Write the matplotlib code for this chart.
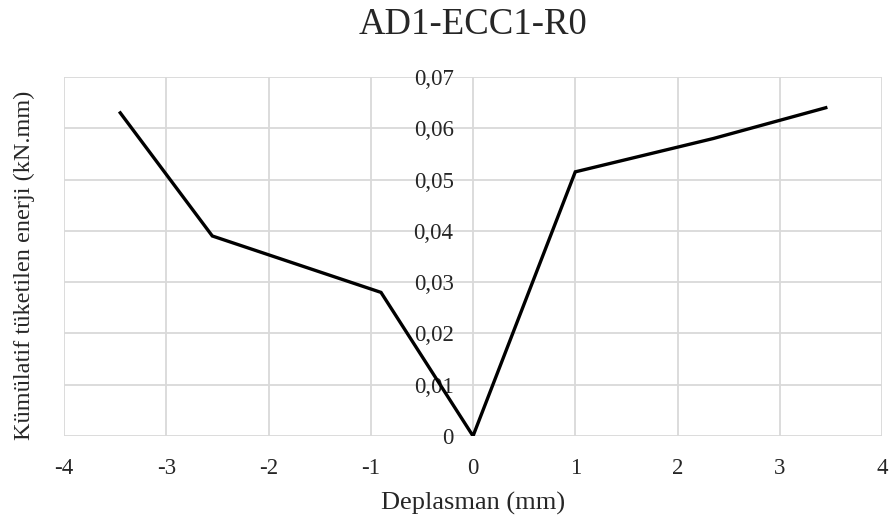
import matplotlib
matplotlib.use("Agg")
import matplotlib.pyplot as plt
from matplotlib.ticker import FuncFormatter

# displacement (mm) vs cumulative dissipated energy (kN.mm)
deplasman = [-3.45, -2.55, -0.9, 0.0, 1.0, 2.35, 3.45]
enerji = [0.063, 0.039, 0.028, 0.0, 0.0515, 0.058, 0.064]

x_ticks = [-4, -3, -2, -1, 0, 1, 2, 3, 4]
y_ticks = [0, 0.01, 0.02, 0.03, 0.04, 0.05, 0.06, 0.07]

plt.rcParams["font.family"] = ["Liberation Serif", "DejaVu Serif"]

fig = plt.figure(figsize=(8.93, 5.2), dpi=100)
ax = fig.add_axes([0.0717, 0.1615, 0.9160, 0.6905])

ax.plot(deplasman, enerji, color="black", linewidth=2.4, solid_joinstyle="miter", zorder=3)

ax.set_xlim(-4, 4)
ax.set_ylim(0, 0.07)
ax.set_xticks(x_ticks)
ax.set_yticks(y_ticks)
ax.grid(True, color="#d9d9d9", linewidth=1.3, zorder=0)

for s in ax.spines.values():
    s.set_visible(False)

# y axis sits at x = 0, labels to its left
ax.spines["left"].set_position(("data", 0))
ax.tick_params(axis="both", length=0, labelsize=16.5)
ax.tick_params(axis="x", pad=16)
ax.tick_params(axis="y", pad=14)
ax.yaxis.set_major_formatter(FuncFormatter(lambda v, p: "0" if v == 0 else f"{v:.2f}".replace(".", ",")))
ax.xaxis.set_major_formatter(FuncFormatter(lambda v, p: f"{v:g}"))
for lbl in ax.get_xticklabels() + ax.get_yticklabels():
    lbl.set_color("#262626")

ax.set_title("AD1-ECC1-R0", fontsize=26.5, pad=31, color="#262626")
ax.set_xlabel("Deplasman (mm)", fontsize=19, labelpad=9, color="#262626")
ax.set_ylabel("Kümülatif tüketilen enerji (kN.mm)", fontsize=17.5, color="#262626")
ax.yaxis.set_label_coords(-0.035, 0.476)

fig.savefig("out.png", dpi=100)
